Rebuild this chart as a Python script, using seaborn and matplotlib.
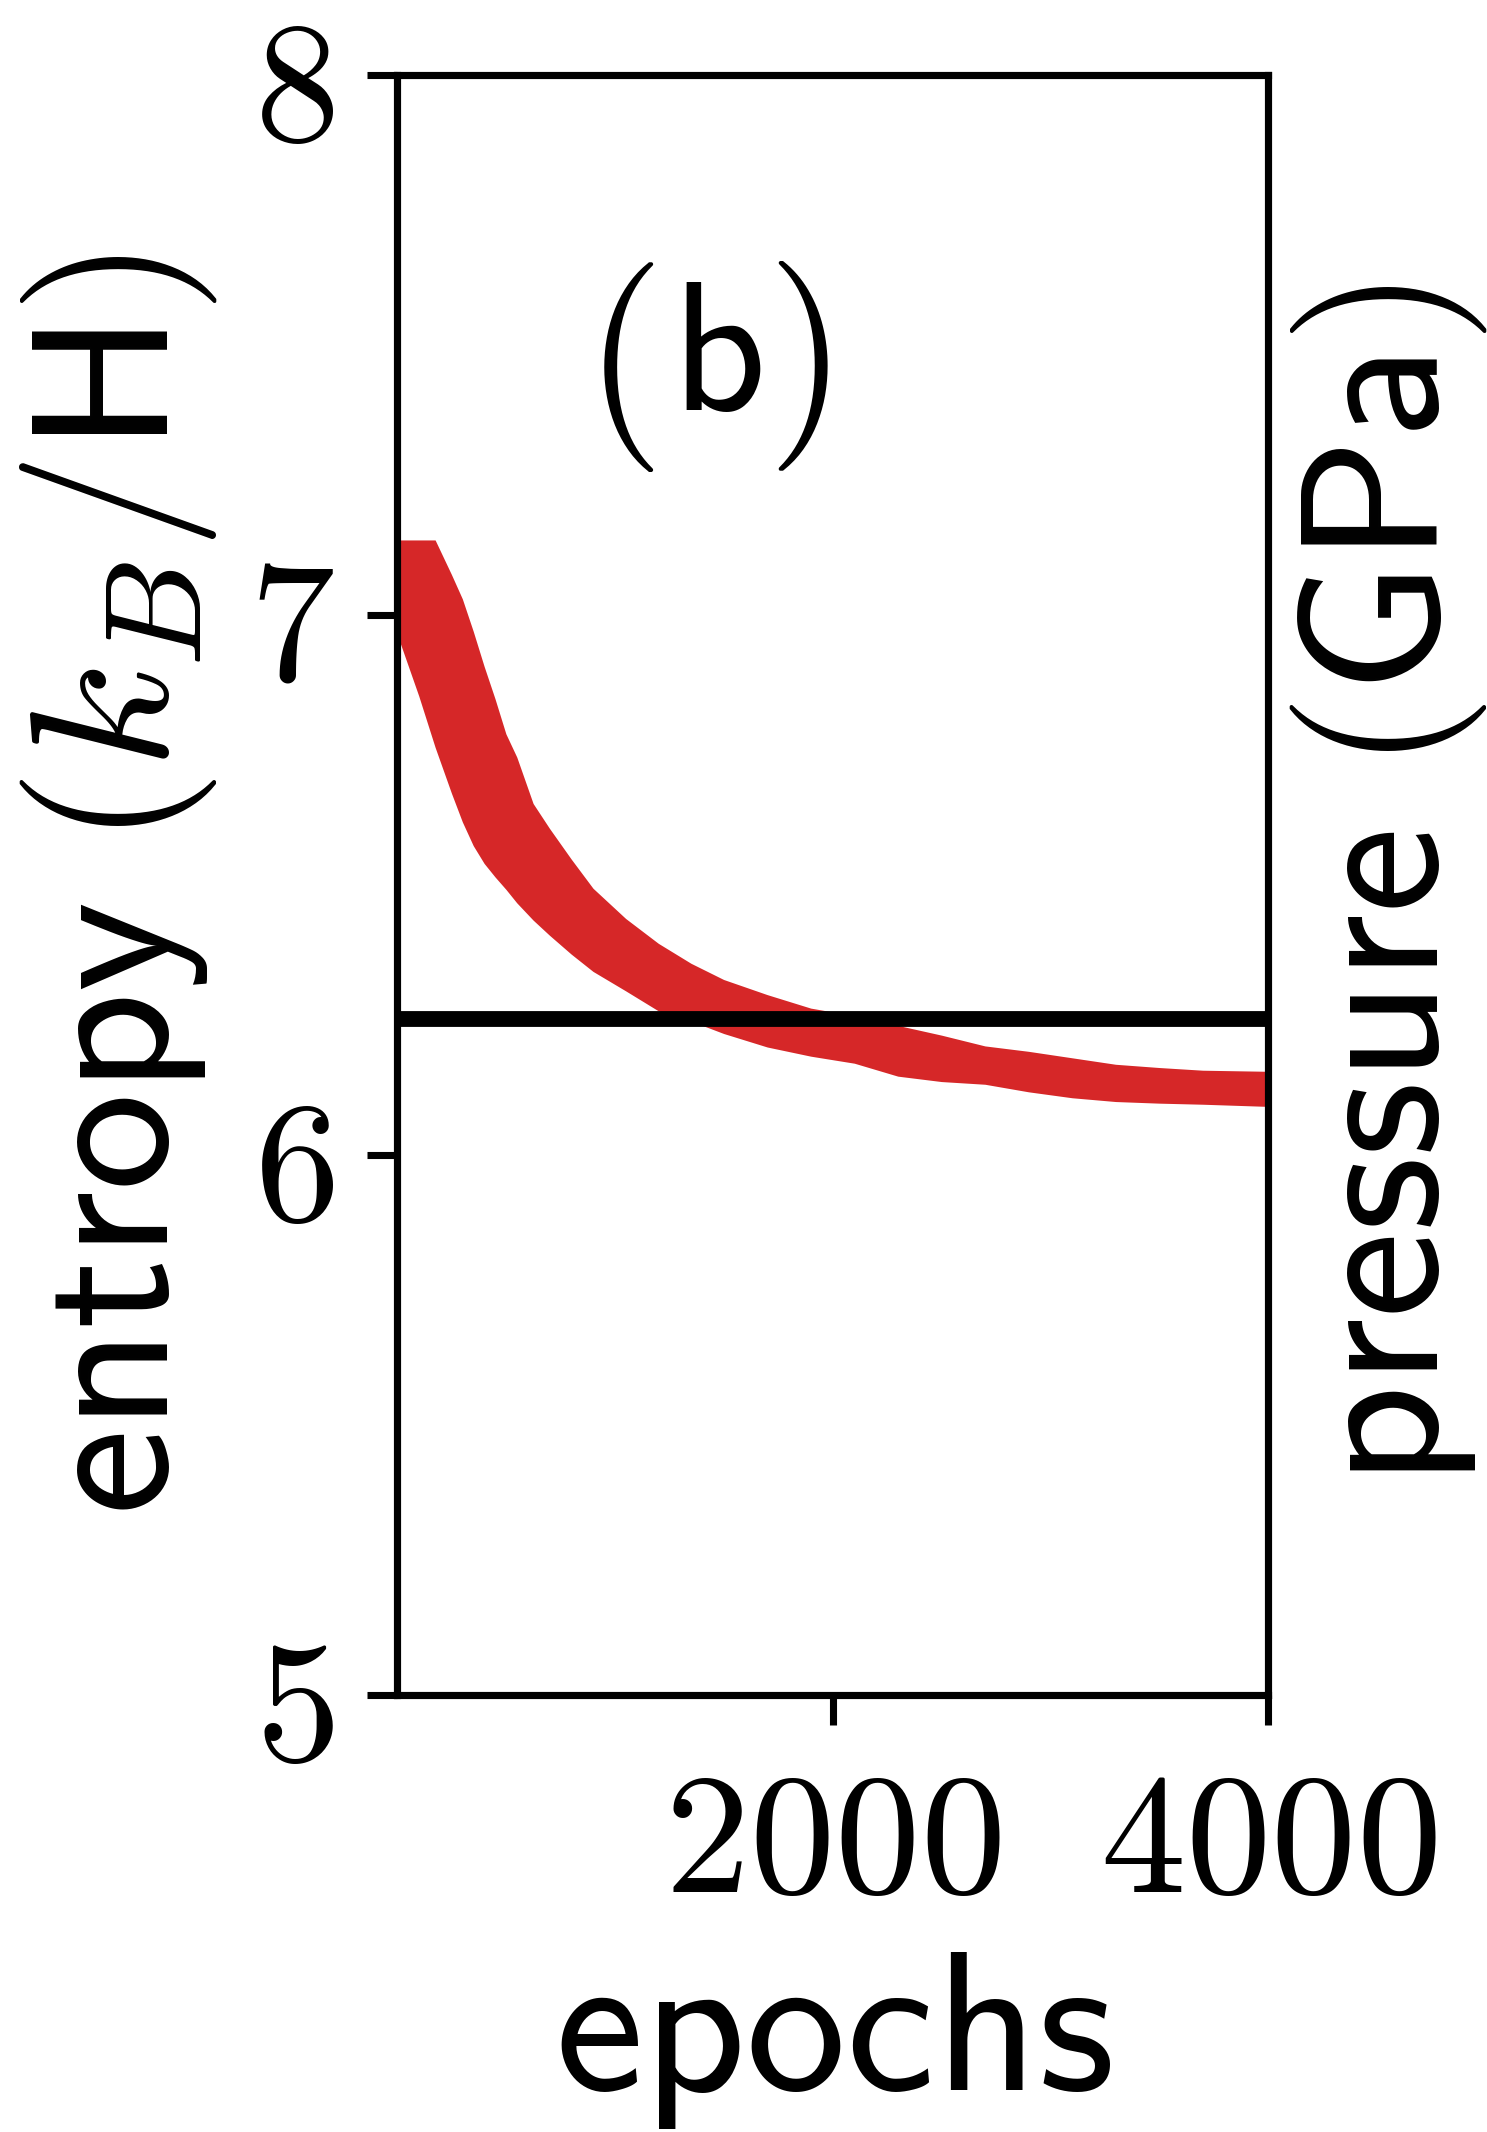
import numpy as np
import pandas as pd
import matplotlib
matplotlib.use("Agg")
import matplotlib.pyplot as plt
import seaborn as sns

# Training history: band of the entropy estimate (upper / lower edge) per epoch
epochs = [0, 100, 175, 250, 300, 350, 400, 450, 500, 550, 625, 700, 800, 900,
          1050, 1200, 1350, 1500, 1700, 1900, 2100, 2300, 2500, 2700, 2900,
          3100, 3300, 3500, 3700, 4000]
entropy_upper = [7.139, 7.139, 7.139, 7.075, 7.030, 6.970, 6.905, 6.845, 6.780,
                 6.737, 6.651, 6.605, 6.548, 6.494, 6.438, 6.392, 6.355, 6.325,
                 6.297, 6.272, 6.258, 6.240, 6.222, 6.202, 6.192, 6.180, 6.168,
                 6.162, 6.157, 6.155]
entropy_lower = [6.965, 6.850, 6.755, 6.670, 6.617, 6.573, 6.540, 6.515, 6.492,
                 6.467, 6.435, 6.407, 6.372, 6.340, 6.304, 6.267, 6.248, 6.225,
                 6.200, 6.183, 6.170, 6.146, 6.136, 6.131, 6.117, 6.106, 6.099,
                 6.096, 6.094, 6.090]

# Reference level (horizontal line)
reference_level = 6.252

# Axis ticks
x_ticks = [2000, 4000]
y_ticks = [5, 6, 7, 8]

sns.set_theme(style="white")
plt.rcParams["mathtext.fontset"] = "cm"
plt.rcParams["font.family"] = ["DejaVu Sans"]
plt.rcParams["text.color"] = "black"
plt.rcParams["axes.labelcolor"] = "black"
plt.rcParams["xtick.color"] = "black"
plt.rcParams["ytick.color"] = "black"

W, H, DPI = 1487, 2132, 300
fig = plt.figure(figsize=(W / DPI, H / DPI), dpi=DPI)
ax = fig.add_axes([397 / W, 1 - 1695 / H, (1268 - 397) / W, (1695 - 75) / H])

# Long-form table: two samples per epoch, the interval spans min..max
df = pd.DataFrame({
    "epoch": epochs + epochs,
    "entropy": entropy_upper + entropy_lower,
})
sns.lineplot(data=df, x="epoch", y="entropy", ax=ax, estimator="mean",
             errorbar=("pi", 100), color="#d62728", linewidth=0,
             err_kws={"alpha": 1.0, "linewidth": 0}, zorder=2)

ax.axhline(reference_level, color="black", linewidth=3.8, zorder=3)

ax.set_xlim(0, 4000)
ax.set_ylim(5, 8)
ax.set_xticks(x_ticks, labels=[f"${v}$" for v in x_ticks])
ax.set_yticks(y_ticks, labels=[f"${v}$" for v in y_ticks])
ax.tick_params(axis="both", direction="out", length=7.2, width=1.7,
               labelsize=41, color="black", labelcolor="black")
ax.tick_params(axis="x", pad=9)
ax.tick_params(axis="y", pad=8)
ax.xaxis.set_ticks_position("bottom")
ax.yaxis.set_ticks_position("left")

for sp in ax.spines.values():
    sp.set_visible(True)
    sp.set_color("black")
    sp.set_linewidth(1.7)

ax.set_xlabel(r"$\mathsf{epochs}$", fontsize=48, va="center")
ax.xaxis.set_label_coords(0.5, -0.21)
ax.set_ylabel(r"$\mathsf{entropy}\ (k_B/\mathsf{H})$", fontsize=47, va="center")
ax.yaxis.set_label_coords(-0.319, 0.5)

# Secondary axis for pressure
ax2 = ax.twinx()
ax2.set_ylim(ax.get_ylim())
ax2.set_yticks([])
for sp in ax2.spines.values():
    sp.set_color("black")
    sp.set_linewidth(1.7)
ax2.set_ylabel(r"$\mathsf{pressure}\ (\mathsf{GPa})$", fontsize=47,
               rotation=90, va="center")
ax2.yaxis.set_label_coords(1.139, 0.5)

# Panel tag
ax.text(0.254, 0.82, r"$($", transform=ax.transAxes, fontsize=50,
        ha="center", va="center")
ax.text(0.366, 0.825, r"$\mathsf{b}$", transform=ax.transAxes, fontsize=44,
        ha="center", va="center")
ax.text(0.460, 0.82, r"$)$", transform=ax.transAxes, fontsize=50,
        ha="center", va="center")

fig.savefig("out.png", dpi=DPI, facecolor="white")
